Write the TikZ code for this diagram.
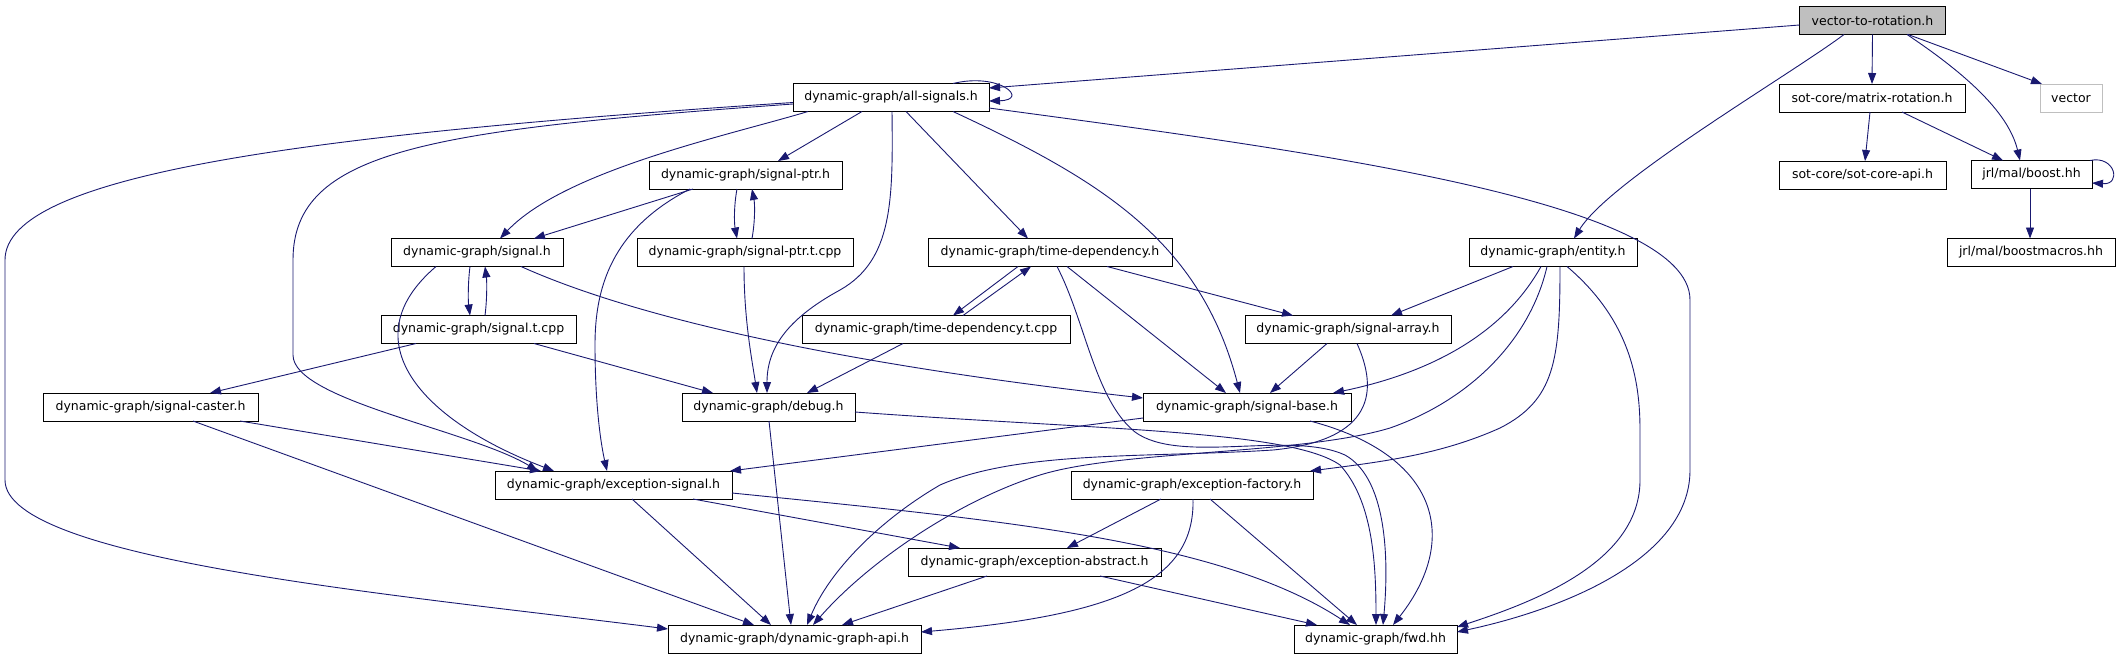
\documentclass[tikz,border=0pt]{standalone}
\usepackage{fontspec}
\setmainfont{DejaVu Sans}
\usetikzlibrary{arrows.meta,calc}
\definecolor{edgecol}{HTML}{191970}
\definecolor{grayfill}{HTML}{BFBFBF}
\tikzset{
  box/.style={draw=black, fill=white, line width=1pt, minimum height=28pt, inner sep=0pt,
    font=\fontsize{12.5}{15}\selectfont},
  edge/.style={draw=edgecol, line width=0.9pt, -{Triangle[length=11pt,width=8pt]}},
}
\newcommand{\Pq}[3]{($(#1)+(#2,#3)$)}
\begin{document}
\begin{tikzpicture}[x=1pt,y=-1pt]
\useasboundingbox (0,0) rectangle (2120,659);
% nodes
\node[box, fill=grayfill, minimum width=146pt] (V) at (1872.5,20.5) {vector-to-rotation.h};
\node[box, minimum width=196pt] (AS) at (891,97.5) {dynamic-graph/all-signals.h};
\node[box, minimum width=186pt] (MR) at (1872,98) {sot-core/matrix-rotation.h};
\node[box, draw=grayfill, minimum width=62pt] (VEC) at (2071,98) {vector};
\node[box, minimum width=167pt] (SCA) at (1862.5,175) {sot-core/sot-core-api.h};
\node[box, minimum width=121pt] (B) at (2031.5,174.5) {jrl/mal/boost.hh};
\node[box, minimum width=168pt] (BM) at (2031,252.5) {jrl/mal/boostmacros.hh};
\node[box, minimum width=193pt] (SP) at (745.5,175) {dynamic-graph/signal-ptr.h};
\node[box, minimum width=172pt] (S) at (477,252.5) {dynamic-graph/signal.h};
\node[box, minimum width=216pt] (SPT) at (745,252.5) {dynamic-graph/signal-ptr.t.cpp};
\node[box, minimum width=244pt] (TD) at (1050,252.5) {dynamic-graph/time-dependency.h};
\node[box, minimum width=168pt] (E) at (1553,252.5) {dynamic-graph/entity.h};
\node[box, minimum width=195pt] (ST) at (478.5,329.5) {dynamic-graph/signal.t.cpp};
\node[box, minimum width=268pt] (TDT) at (936,329.5) {dynamic-graph/time-dependency.t.cpp};
\node[box, minimum width=206pt] (SA) at (1348,329.5) {dynamic-graph/signal-array.h};
\node[box, minimum width=215pt] (SC) at (150.5,407) {dynamic-graph/signal-caster.h};
\node[box, minimum width=173pt] (D) at (768.5,407) {dynamic-graph/debug.h};
\node[box, minimum width=208pt] (SB) at (1247,407) {dynamic-graph/signal-base.h};
\node[box, minimum width=237pt] (ES) at (613.5,485) {dynamic-graph/exception-signal.h};
\node[box, minimum width=242pt] (EF) at (1192,485) {dynamic-graph/exception-factory.h};
\node[box, minimum width=253pt] (EA) at (1034.5,562) {dynamic-graph/exception-abstract.h};
\node[box, minimum width=253pt] (API) at (794.5,639) {dynamic-graph/dynamic-graph-api.h};
\node[box, minimum width=163pt] (FWD) at (1375.5,639) {dynamic-graph/fwd.hh};
% edges from vector-to-rotation.h
\draw[edge] \Pq{V}{-73}{4.5} -- \Pq{AS}{98}{-9.5};
\draw[edge] \Pq{V}{-28.5}{14} .. controls (1790,75) and (1610,180) .. \Pq{E}{21}{-14};
\draw[edge] \Pq{V}{0}{14} -- \Pq{MR}{0}{-14};
\draw[edge] \Pq{V}{34.5}{14} .. controls (1960,70) and (2008,110) .. \Pq{B}{-11.5}{-14};
\draw[edge] \Pq{V}{35.5}{14} -- \Pq{VEC}{-29}{-14};
% all-signals.h
\draw[edge] \Pq{AS}{62}{-14} .. controls (1000,72) and (1030,100) .. \Pq{AS}{98}{3.5};
\draw[edge] \Pq{AS}{-29}{14} -- \Pq{SP}{32.5}{-14};
\draw[edge] \Pq{AS}{-83}{14} .. controls (730,135) and (565,170) .. \Pq{S}{23}{-14};
\draw[edge] \Pq{AS}{15}{14} -- \Pq{TD}{-22}{-14};
\draw[edge] \Pq{AS}{62}{14} .. controls (1100,180) and (1200,240) .. \Pq{SB}{-7}{-14};
\draw[edge] \Pq{AS}{1}{14} .. controls (893,200) and (893,260) .. (840,290)
   .. controls (785,320) and (767,350) .. \Pq{D}{-1.5}{-14};
\draw[edge] \Pq{AS}{-98}{6.5} .. controls (430,130) and (293,150) .. (293,260) -- (293,355)
   .. controls (293,400) and (470,430) .. \Pq{ES}{-75.5}{-14};
\draw[edge] \Pq{AS}{-98}{5} .. controls (300,135) and (5,175) .. (5,260) -- (5,480)
   .. controls (5,560) and (400,595) .. \Pq{API}{-126.5}{-10};
\draw[edge] \Pq{AS}{98}{10.5} .. controls (1300,150) and (1690,200) .. (1690,300) -- (1690,470)
   .. controls (1690,560) and (1560,610) .. \Pq{FWD}{81.5}{-7};
% signal-ptr.h
\draw[edge] \Pq{SP}{-52.5}{14} -- \Pq{S}{57}{-14};
\draw[edge] \Pq{SP}{-8.5}{14} .. controls (734,205) and (734,222) .. \Pq{SPT}{-8}{-14};
\draw[edge] \Pq{SPT}{7}{-14} .. controls (755,222) and (755,205) .. \Pq{SP}{6.5}{14};
\draw[edge] \Pq{SP}{-55.5}{14} .. controls (610,230) and (595,290) .. (595,345)
   .. controls (595,400) and (600,440) .. \Pq{ES}{-6.5}{-14};
% signal.h
\draw[edge] \Pq{S}{-7}{14} .. controls (468,282) and (468,300) .. \Pq{ST}{-8.5}{-14};
\draw[edge] \Pq{ST}{6.5}{-14} .. controls (487,300) and (487,282) .. \Pq{S}{8}{14};
\draw[edge] \Pq{S}{-41}{14} .. controls (350,340) and (420,420) .. \Pq{ES}{-59.5}{-14};
\draw[edge] \Pq{S}{44}{14} .. controls (640,320) and (850,365) .. \Pq{SB}{-104}{-9};
% signal.t.cpp
\draw[edge] \Pq{ST}{-62.5}{14} -- \Pq{SC}{59.5}{-14};
\draw[edge] \Pq{ST}{55.5}{14} -- \Pq{D}{-55.5}{-14};
% signal-ptr.t.cpp
\draw[edge] \Pq{SPT}{-1}{14} .. controls (744,320) and (752,360) .. \Pq{D}{-11.5}{-14};
% time-dependency.h
\draw[edge] \Pq{TD}{-32}{14} -- \Pq{TDT}{17}{-14};
\draw[edge] \Pq{TDT}{27}{-14} -- \Pq{TD}{-19}{14};
\draw[edge] \Pq{TD}{57}{14} -- \Pq{SA}{-55}{-14};
\draw[edge] \Pq{TD}{17}{14} -- \Pq{SB}{-21}{-14};
\draw[edge] \Pq{TD}{7}{14} .. controls (1085,320) and (1095,400) .. (1135,432)
   .. controls (1180,465) and (1290,430) .. (1345,455)
   .. controls (1390,480) and (1388,570) .. \Pq{FWD}{7.5}{-14};
% time-dependency.t.cpp
\draw[edge] \Pq{TDT}{-33}{14} -- \Pq{D}{38.5}{-14};
% entity.h
\draw[edge] \Pq{E}{-40}{14} -- \Pq{SA}{43}{-14};
\draw[edge] \Pq{E}{-12}{14} .. controls (1500,340) and (1420,375) .. \Pq{SB}{86}{-14};
\draw[edge] \Pq{E}{-6}{14} .. controls (1530,340) and (1470,400) .. (1390,428)
   .. controls (1300,455) and (1120,450) .. (1040,475)
   .. controls (960,500) and (870,560) .. \Pq{API}{18.5}{-14};
\draw[edge] \Pq{E}{7}{14} .. controls (1560,360) and (1555,400) .. (1500,428)
   .. controls (1440,455) and (1380,462) .. \Pq{EF}{118}{-14};
\draw[edge] \Pq{E}{14}{14} .. controls (1630,320) and (1640,380) .. (1640,430) -- (1640,480)
   .. controls (1640,560) and (1540,600) .. \Pq{FWD}{81.5}{-12};
% signal-array.h
\draw[edge] \Pq{SA}{-21}{14} -- \Pq{SB}{23}{-14};
\draw[edge] \Pq{SA}{9}{14} .. controls (1378,390) and (1375,440) .. (1273,450)
   .. controls (1150,458) and (1020,450) .. (940,485)
   .. controls (880,520) and (830,570) .. \Pq{API}{12.5}{-14};
% signal-caster.h
\draw[edge] \Pq{SC}{89.5}{14} -- \Pq{ES}{-72.5}{-14};
\draw[edge] \Pq{SC}{42.5}{14} -- \Pq{API}{-40.5}{-14};
% debug.h
\draw[edge] \Pq{D}{0.5}{14} -- \Pq{API}{-3.5}{-14};
\draw[edge] \Pq{D}{86.5}{5} .. controls (1100,430) and (1290,430) .. (1340,465)
   .. controls (1372,500) and (1376,560) .. \Pq{FWD}{0.5}{-14};
% signal-base.h
\draw[edge] \Pq{SB}{-104}{11} -- \Pq{ES}{116.5}{-14};
\draw[edge] \Pq{SB}{63}{14} .. controls (1440,455) and (1460,540) .. \Pq{FWD}{17.5}{-14};
% exception-signal.h
\draw[edge] \Pq{ES}{18.5}{14} -- \Pq{API}{-23.5}{-14};
\draw[edge] \Pq{ES}{79.5}{14} -- \Pq{EA}{-74.5}{-14};
\draw[edge] \Pq{ES}{118.5}{8} .. controls (1000,520) and (1220,540) .. \Pq{FWD}{-25.5}{-14};
% exception-factory.h
\draw[edge] \Pq{EF}{-31}{14} -- \Pq{EA}{32.5}{-14};
\draw[edge] \Pq{EF}{1}{14} .. controls (1195,580) and (1120,615) .. \Pq{API}{126.5}{-7};
\draw[edge] \Pq{EF}{18}{14} -- \Pq{FWD}{-18.5}{-14};
% exception-abstract.h
\draw[edge] \Pq{EA}{-47.5}{14} -- \Pq{API}{47.5}{-14};
\draw[edge] \Pq{EA}{65.5}{14} -- \Pq{FWD}{-58.5}{-14};
% sot-core
\draw[edge] \Pq{MR}{-2}{14} -- \Pq{SCA}{2.5}{-14};
\draw[edge] \Pq{MR}{30}{14} -- \Pq{B}{-28.5}{-14};
\draw[edge] \Pq{B}{58.5}{-14} .. controls (2115,155) and (2122,185) .. \Pq{B}{60.5}{8.5};
\draw[edge] \Pq{B}{-1.5}{14} -- \Pq{BM}{-1}{-14};
\end{tikzpicture}
\end{document}
